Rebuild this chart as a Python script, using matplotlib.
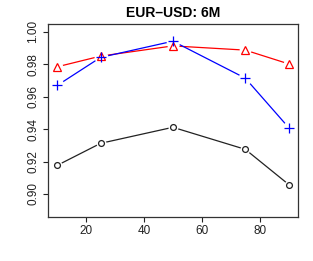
import matplotlib.pyplot as plt
import numpy as np

plt.rcParams['font.family'] = ['Liberation Sans', 'DejaVu Sans']

x = [10, 25, 50, 75, 90]
black_vals = [0.9176, 0.9312, 0.9411, 0.9275, 0.9058]
red_vals = [0.9784, 0.9850, 0.9913, 0.9887, 0.9802]
blue_vals = [0.9669, 0.9842, 0.9942, 0.9714, 0.9409]
yticks = [0.90, 0.92, 0.94, 0.96, 0.98, 1.00]
xticks = [20, 40, 60, 80]

fig = plt.figure(figsize=(3.13, 2.61), dpi=100)
ax = fig.add_axes([0.153, 0.170, 0.799, 0.738])

series = [
    (black_vals, '#222222', 'o', 4.2),
    (red_vals, 'red', '^', 5.5),
    (blue_vals, 'blue', '+', 7),
]
for vals, col, mk, ms in series:
    ax.plot(x, vals, color=col, lw=0.9, zorder=1)
    # white patch under each point gives R's type="b" gap
    ax.plot(x, vals, ls='none', marker='o', ms=ms + 3, mfc='white', mec='none', zorder=2)
for vals, col, mk, ms in series:
    ax.plot(x, vals, ls='none', marker=mk, ms=ms, mfc='none', mec=col, mew=0.9, zorder=3)

ax.set_xlim(6.8, 93.2)
ax.set_ylim(0.886, 1.0048)
ax.set_xticks(xticks)
ax.set_yticks(yticks)
ax.set_yticklabels(['%.2f' % v for v in yticks], rotation=90, va='center')
ax.tick_params(labelsize=8.5, length=3.6, width=0.8, direction='out', pad=2.5, colors='#222222')
for s in ax.spines.values():
    s.set_linewidth(0.9)
    s.set_color('#333333')

fig.text(0.553, 0.952, 'EUR\u2013USD: 6M', ha='center', va='center', fontsize=10, fontweight='bold')

fig.savefig('out.png', dpi=100)
